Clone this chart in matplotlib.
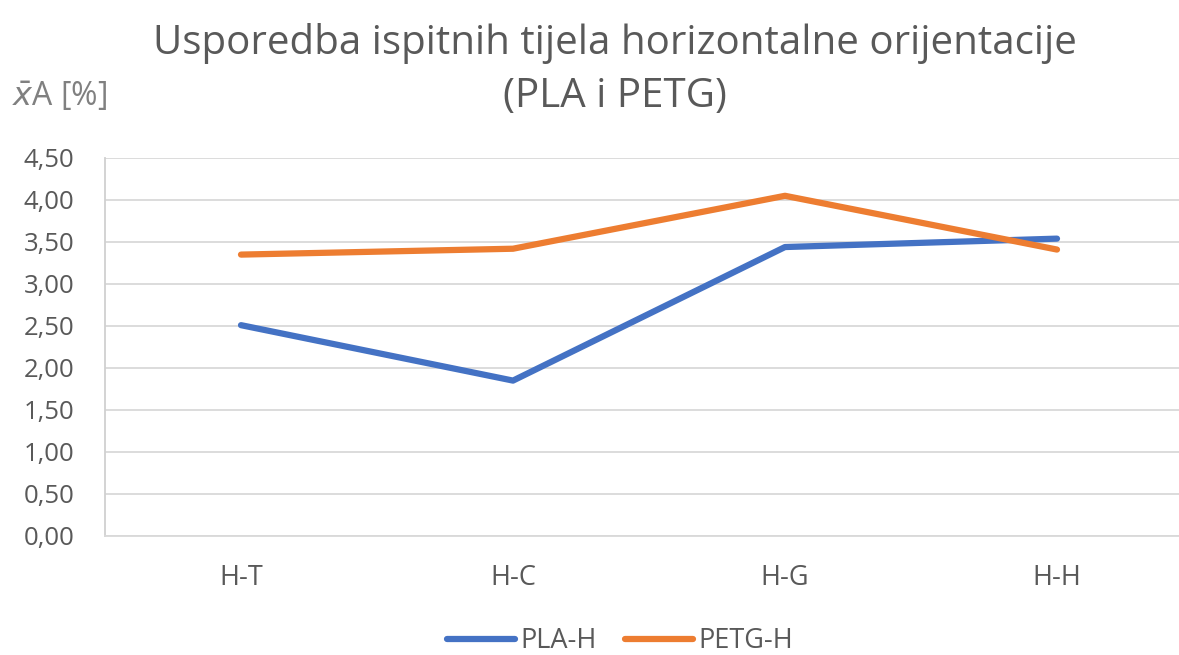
import numpy as np
import matplotlib.pyplot as plt

categories = ['H-T', 'H-C', 'H-G', 'H-H']
pla_h = [2.51, 1.85, 3.44, 3.54]
petg_h = [3.35, 3.42, 4.05, 3.41]
yticks = [0, 0.5, 1, 1.5, 2, 2.5, 3, 3.5, 4, 4.5]

plt.rcParams['font.family'] = ['Open Sans', 'DejaVu Sans']
txt = '#595959'

fig = plt.figure(figsize=(11.79, 6.55), dpi=100)
# plot area runs a little past the right edge of the figure
ax = fig.add_axes([105/1179, 1-536/655, 1088/1179, 378/655])

x = np.arange(len(categories))
ax.plot(x, pla_h, color='#4472C4', lw=4.5, solid_capstyle='round', label='PLA-H')
ax.plot(x, petg_h, color='#ED7D31', lw=4.5, solid_capstyle='round', label='PETG-H')

ax.set_xlim(-0.5, 3.5)
ax.set_ylim(0, 4.5)
ax.set_yticks(yticks)
ax.set_yticklabels([f'{v:.2f}'.replace('.', ',') for v in yticks])
ax.set_xticks(x)
ax.set_xticklabels(categories)
ax.tick_params(axis='y', length=0, pad=22, labelsize=18.5, labelcolor=txt)
ax.tick_params(axis='x', length=0, pad=20, labelsize=19.5, labelcolor=txt)
ax.grid(axis='y', color='#d9d9d9', lw=1.3)
ax.set_axisbelow(True)
for s in ['top', 'right']:
    ax.spines[s].set_visible(False)
ax.spines['left'].set_color('#d0d0d0')
ax.spines['left'].set_linewidth(1.3)
ax.spines['bottom'].set_color('#d9d9d9')
ax.spines['bottom'].set_linewidth(1.3)

fig.text(615/1179, 1-44/655, 'Usporedba ispitnih tijela horizontalne orijentacije',
         ha='center', va='center', fontsize=29, color=txt)
fig.text(615/1179, 1-97/655, '(PLA i PETG)', ha='center', va='center', fontsize=29, color=txt)
fig.text(12/1179, 1-97/655, r'$\bar{x}$A [%]', ha='left', va='center', fontsize=23, color='#808080')

fig.legend(loc='center', bbox_to_anchor=(620/1179, 1-641/655), ncol=2, frameon=False,
           fontsize=19.5, labelcolor=txt, handlelength=2.5, handletextpad=0.2, columnspacing=1.05)

fig.savefig('out.png', dpi=100)
